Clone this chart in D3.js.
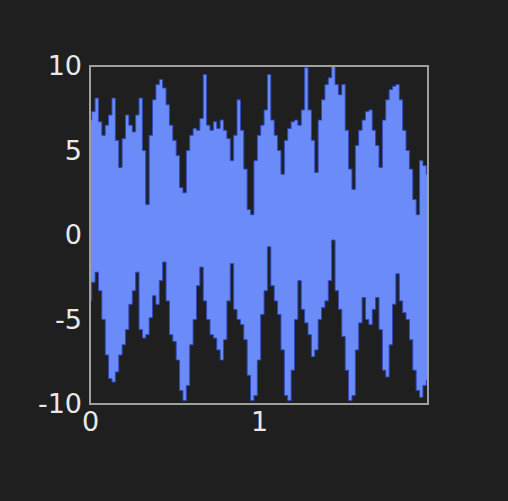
<!DOCTYPE html>
<html>
<head>
<meta charset="utf-8">
<script src="https://cdn.jsdelivr.net/npm/d3@7/dist/d3.min.js"></script>
<style>
  html, body { margin: 0; padding: 0; background: #1f1f1f; }
  svg { display: block; }
</style>
</head>
<body>
<script>
// Signal envelope sampled every 0.02 s over [0, 2]
const step = 0.02;
const upper = [
  6.8, 7.3, 8.1, 6.7, 5.9, 6.5, 7.1, 8.1, 5.6, 4.0,
  5.7, 7.1, 6.5, 6.1, 7.1, 8.1, 5.0, 1.8, 5.9, 8.0,
  8.9, 9.2, 8.7, 7.7, 6.5, 5.6, 4.7, 2.8, 2.5, 5.0,
  5.9, 6.3, 6.2, 6.9, 9.5, 6.5, 6.2, 6.7, 6.3, 6.8,
  6.2, 5.7, 4.4, 5.9, 8.0, 6.2, 3.9, 1.5, 1.2, 4.4,
  5.9, 6.5, 7.4, 9.5, 6.8, 5.9, 5.0, 3.6, 5.6, 6.3,
  6.7, 6.8, 6.5, 7.4, 9.9, 7.4, 5.6, 3.7, 6.8, 8.0,
  8.9, 9.3, 10.0, 8.9, 8.3, 8.9, 6.2, 3.9, 2.7, 5.3,
  6.2, 6.8, 7.3, 7.4, 6.2, 5.3, 4.0, 6.8, 8.0, 8.6,
  8.8, 8.9, 8.0, 6.2, 5.0, 3.9, 2.1, 1.2, 4.4, 4.1,
  3.6
];
const lower = [
  -3.9, -2.8, -2.2, -3.3, -5.0, -7.1, -8.5, -8.7, -8.1, -7.1,
  -6.5, -5.6, -4.1, -3.3, -2.2, -5.6, -6.1, -5.9, -4.9, -3.6,
  -4.1, -2.7, -1.6, -3.9, -5.9, -6.3, -7.4, -9.2, -9.8, -8.9,
  -6.5, -5.0, -3.0, -1.9, -3.9, -5.0, -5.9, -6.1, -6.8, -7.4,
  -6.2, -3.9, -1.7, -4.4, -5.0, -5.3, -6.2, -8.3, -9.8, -9.5,
  -7.4, -4.7, -3.3, -0.7, -3.0, -3.9, -4.7, -6.8, -9.5, -9.8,
  -8.0, -5.0, -2.7, -4.4, -5.2, -5.9, -7.2, -6.8, -5.0, -4.3,
  -3.9, -2.7, -0.3, -3.3, -4.4, -6.0, -8.0, -9.8, -9.5, -6.8,
  -5.2, -3.7, -5.0, -5.3, -4.4, -3.7, -5.6, -8.0, -8.4, -6.5,
  -4.1, -2.3, -3.9, -4.6, -5.0, -6.2, -8.0, -9.2, -9.6, -8.9,
  -8.6
];
const xTicks = [0, 1];
const yTicks = [-10, -5, 0, 5, 10];

const W = 508, H = 501;
const plot = { left: 90, right: 428, top: 66, bottom: 404 };

const svg = d3.select("body").append("svg")
  .attr("width", W).attr("height", H)
  .style("background", "#1f1f1f");

const x = d3.scaleLinear().domain([0, 2]).range([plot.left, plot.right]);
const y = d3.scaleLinear().domain([-10, 10]).range([plot.bottom, plot.top]);

const samples = upper.map((u, i) => ({ t: i * step, hi: u, lo: lower[i] }));

// Filled band of the fast oscillation; each sample spans one narrow column
const band = d3.area()
  .x(d => x(d.t))
  .y0(d => y(d.lo))
  .y1(d => y(d.hi))
  .curve(d3.curveStep);

svg.append("path")
  .datum(samples)
  .attr("d", band)
  .attr("fill", "#6b8cf8")
  .attr("stroke", "#2f49b8")
  .attr("stroke-width", 1);

// Frame around the plot area
svg.append("rect")
  .attr("x", plot.left).attr("y", plot.top)
  .attr("width", plot.right - plot.left)
  .attr("height", plot.bottom - plot.top)
  .attr("fill", "none")
  .attr("stroke", "#a0a0a0")
  .attr("stroke-width", 2);

const font = "DejaVu Sans, sans-serif";
const label = d => String(d);

const yAxis = svg.append("g")
  .attr("transform", `translate(${plot.left},0)`)
  .call(d3.axisLeft(y).tickValues(yTicks).tickSize(0).tickPadding(8).tickFormat(label));
yAxis.select(".domain").remove();
yAxis.selectAll("text")
  .attr("fill", "#e8e8e8")
  .style("font-family", font)
  .style("font-size", "27px");

const xAxis = svg.append("g")
  .attr("transform", `translate(0,${plot.bottom})`)
  .call(d3.axisBottom(x).tickValues(xTicks).tickSize(0).tickPadding(8).tickFormat(label));
xAxis.select(".domain").remove();
xAxis.selectAll("text")
  .attr("fill", "#e8e8e8")
  .style("font-family", font)
  .style("font-size", "27px");
</script>
</body>
</html>
